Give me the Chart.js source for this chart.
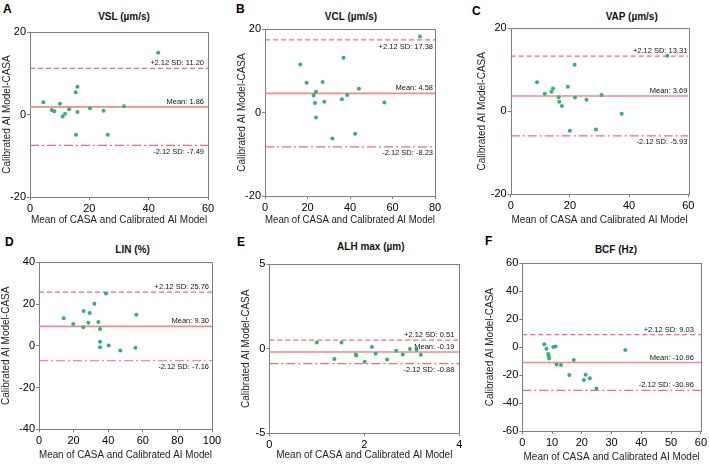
<!DOCTYPE html>
<html><head><meta charset="utf-8">
<script src="https://cdn.jsdelivr.net/npm/chart.js@4.4.1/dist/chart.umd.min.js"></script>
<style>
html,body{margin:0;padding:0;background:#fff;width:709px;height:465px;overflow:hidden;position:relative;font-family:"Liberation Sans",Arial,sans-serif;}
.letter{position:absolute;font-weight:bold;font-size:12px;line-height:12px;color:#000;}
.title{position:absolute;font-weight:bold;font-size:10px;line-height:12px;color:#111;white-space:nowrap;transform:translateX(-50%);}
canvas{position:absolute;}
</style></head><body>
<script>
// ---- data ----
const panelLetters = ['A','B','C','D','E','F'];
const panelTitles = ['VSL (µm/s)','VCL (µm/s)','VAP (µm/s)','LIN (%)','ALH max (µm)','BCF (Hz)'];
const xAxisTitle = 'Mean of CASA and Calibrated AI Model';
const yAxisTitle = 'Calibrated AI Model-CASA';

const vslX = [4.5, 7.3, 8.2, 10.1, 11.0, 11.8, 13.2, 15.4, 16.0, 16.0, 15.5, 20.2, 24.8, 26.2, 31.7, 43.2];
const vslY = [3.0, 1.1, 0.8, 2.6, -0.5, 0.2, 1.3, 5.4, 6.7, 0.6, -4.9, 1.5, 0.9, -4.9, 2.0, 15.0];
const vclX = [16.6, 19.6, 27.1, 22.9, 24.0, 23.5, 27.9, 24.0, 31.7, 36.9, 36.2, 38.7, 44.2, 42.4, 56.2, 72.9];
const vclY = [11.5, 7.1, 7.3, 4.1, 5.0, 2.3, 2.6, -1.2, -6.2, 13.1, 3.2, 4.2, 5.7, -5.1, 2.4, 18.2];
const vapX = [8.9, 11.5, 13.8, 14.3, 16.2, 16.4, 17.3, 19.3, 21.6, 21.7, 20.0, 25.6, 30.7, 28.8, 37.5, 52.9];
const vapY = [7.0, 4.2, 4.7, 5.5, 3.4, 2.3, 1.3, 5.9, 11.2, 3.3, -4.7, 2.8, 3.9, -4.4, -0.6, 13.4];
const linX = [14.3, 19.8, 25.8, 25.6, 28.5, 29.3, 32.0, 34.3, 35.3, 35.3, 35.3, 38.7, 40.3, 47.0, 55.7, 56.3];
const linY = [13.2, 10.4, 16.7, 8.9, 11.1, 15.7, 20.2, 11.4, 8.0, 2.0, -0.7, 25.1, 0.2, -2.2, -0.9, 14.9];
const alhX = [1.00, 1.52, 1.37, 1.82, 1.83, 2.01, 2.16, 2.24, 2.48, 2.67, 2.81, 2.96, 3.10, 3.19];
const alhY = [0.38, 0.38, -0.60, -0.33, -0.40, -0.76, 0.11, -0.29, -0.64, -0.11, -0.33, -0.01, -0.07, -0.35];
const bcfX = [7.4, 8.1, 8.7, 8.9, 9.0, 10.4, 11.2, 11.5, 13.0, 17.3, 15.8, 21.3, 20.7, 22.7, 24.9, 34.6];
const bcfY = [2.0, -1.1, -4.9, -6.3, -8.2, 0.1, 0.4, -12.5, -12.8, -9.2, -19.9, -19.7, -23.5, -22.3, -29.5, -2.0];

const meanValues = [1.86, 4.58, 3.69, 9.30, -0.19, -10.96];
const upperLoA = [11.20, 17.38, 13.31, 25.76, 0.51, 9.03];
const lowerLoA = [-7.49, -8.23, -5.93, -7.16, -0.88, -30.96];

const xMins = [0, 0, 0, 0, 0, 0];
const xMaxs = [60, 80, 60, 100, 4, 60];
const xSteps = [20, 20, 20, 20, 2, 10];
const yMins = [-20, -20, -20, -40, -5, -60];
const yMaxs = [20, 20, 20, 40, 5, 60];
const ySteps = [20, 20, 20, 20, 5, 20];

const xSeries = [vslX, vclX, vapX, linX, alhX, bcfX];
const ySeries = [vslY, vclY, vapY, linY, alhY, bcfY];

// ---- layout / style ----
const layouts = [
  {left:0,   top:0,   w:235, h:230, area:[30,32,208,197],       yTitleX:7,     xTitleY:220, letter:[3,3],   title:[124,17],   place:['above','above','below'], inset:4},
  {left:235, top:0,   w:235, h:230, area:[265,29,435,196],      yTitleX:242.3, xTitleY:220, letter:[236,3], title:[351,17],   place:['below','above','below'], inset:2},
  {left:470, top:0,   w:239, h:230, area:[510.7,28.3,688.3,194.3], yTitleX:482.7, xTitleY:220, letter:[472,5], title:[631.7,17], place:['above','above','below'], inset:1},
  {left:0,   top:230, w:235, h:235, area:[39,262.3,212,429.3],  yTitleX:6.7,   xTitleY:455, letter:[5,236], title:[132.5,250], place:['above','above','below'], inset:3},
  {left:235, top:230, w:235, h:235, area:[269.3,264.3,459.3,433.3], yTitleX:246.7, xTitleY:455, letter:[237,236], title:[370.8,247], place:['above','above','below'], inset:5},
  {left:470, top:230, w:239, h:235, area:[522.3,263.3,701.7,431], yTitleX:490.7, xTitleY:457, letter:[485,235], title:[616,250], place:['above','above','above'], inset:7}
];
const green = '#2bb673';
const redMean = '#f28b8b';
const redLoA = '#ef6f6f';
const frameColor = '#7f7f7f';
const FONT = '"Liberation Sans", Arial, sans-serif';

const framePlugin = {
  id: 'frame',
  beforeDatasetsDraw(chart) {
    const a = chart.chartArea, ctx = chart.ctx;
    ctx.save();
    ctx.strokeStyle = frameColor; ctx.lineWidth = 1;
    ctx.strokeRect(Math.round(a.left) + 0.5, Math.round(a.top) + 0.5, Math.round(a.right - a.left), Math.round(a.bottom - a.top));
    ctx.restore();
  }
};
const labelPlugin = {
  id: 'baLabels',
  afterDatasetsDraw(chart, args, opts) {
    const ctx = chart.ctx, a = chart.chartArea, ys = chart.scales.y;
    ctx.save();
    ctx.font = '7.5px ' + FONT;
    ctx.fillStyle = '#111';
    ctx.textAlign = 'right';
    ctx.textBaseline = 'middle';
    opts.items.forEach(it => {
      const py = ys.getPixelForValue(it.value);
      const dy = it.place === 'above' ? -5 : 6.5;
      ctx.fillText(it.text, a.right - opts.inset, py + dy);
    });
    ctx.restore();
  }
};

function lineDs(v, xmin, xmax, color, width, dash) {
  return {type:'line', data:[{x:xmin,y:v},{x:xmax,y:v}], borderColor:color, borderWidth:width,
          borderDash:dash, pointRadius:0, fill:false, showLine:true, tension:0};
}

for (let i = 0; i < 6; i++) {
  const L = layouts[i];
  const letter = document.createElement('div');
  letter.className = 'letter'; letter.textContent = panelLetters[i];
  letter.style.left = L.letter[0] + 'px'; letter.style.top = L.letter[1] + 'px';
  document.body.appendChild(letter);
  const title = document.createElement('div');
  title.className = 'title'; title.textContent = panelTitles[i];
  title.style.left = L.title[0] + 'px'; title.style.top = (L.title[1] - 6) + 'px';
  document.body.appendChild(title);

  const cv = document.createElement('canvas');
  cv.width = L.w; cv.height = L.h;
  cv.style.left = L.left + 'px'; cv.style.top = L.top + 'px';
  cv.style.width = L.w + 'px'; cv.style.height = L.h + 'px';
  document.body.appendChild(cv);

  const [aL, aT, aR, aB] = L.area;
  const yScaleLeft = L.yTitleX - 6;
  const padLeft = yScaleLeft - L.left;
  const yWidth = aL - yScaleLeft;
  const xHeight = L.xTitleY + 6 - aB;
  const padBottom = L.top + L.h - (L.xTitleY + 6);

  const pts = xSeries[i].map((v, k) => ({x: v, y: ySeries[i][k]}));
  const fmt = v => v.toFixed(2);
  new Chart(cv, {
    type: 'scatter',
    data: {datasets: [
      {data: pts, backgroundColor: green, borderColor: green, pointRadius: 2, pointBorderWidth: 0},
      lineDs(meanValues[i], xMins[i], xMaxs[i], redMean, 1.6, []),
      lineDs(upperLoA[i], xMins[i], xMaxs[i], redLoA, 1.2, [5, 3]),
      lineDs(lowerLoA[i], xMins[i], xMaxs[i], redLoA, 1.2, [9, 3, 2, 3])
    ]},
    options: {
      responsive: false, animation: false, devicePixelRatio: 1,
      layout: {padding: {left: padLeft, top: aT - L.top, right: L.left + L.w - aR, bottom: padBottom}},
      plugins: {
        legend: {display: false}, tooltip: {enabled: false},
        baLabels: {inset: L.inset, items: [
          {value: upperLoA[i], text: '+2.12 SD: ' + fmt(upperLoA[i]), place: L.place[0]},
          {value: meanValues[i], text: 'Mean: ' + fmt(meanValues[i]), place: L.place[1]},
          {value: lowerLoA[i], text: '-2.12 SD: ' + fmt(lowerLoA[i]), place: L.place[2]}
        ]}
      },
      scales: {
        x: {type: 'linear', min: xMins[i], max: xMaxs[i],
            afterFit: s => { s.height = xHeight; },
            ticks: {stepSize: xSteps[i], autoSkip: false, maxRotation: 0, padding: 2, color: '#000', font: {family: FONT, size: 11}},
            grid: {drawOnChartArea: false, tickLength: 3, color: frameColor},
            border: {display: false},
            title: {display: true, text: xAxisTitle, color: '#222', padding: 0, font: {family: FONT, size: 10}}},
        y: {type: 'linear', min: yMins[i], max: yMaxs[i],
            afterFit: s => { s.width = yWidth; },
            ticks: {stepSize: ySteps[i], autoSkip: false, padding: 1, color: '#000', font: {family: FONT, size: 11}},
            grid: {drawOnChartArea: false, tickLength: 3, color: frameColor},
            border: {display: false},
            title: {display: true, text: yAxisTitle, color: '#222', padding: 0, font: {family: FONT, size: 10}}}
      }
    },
    plugins: [framePlugin, labelPlugin]
  });
}
</script>
</body></html>
